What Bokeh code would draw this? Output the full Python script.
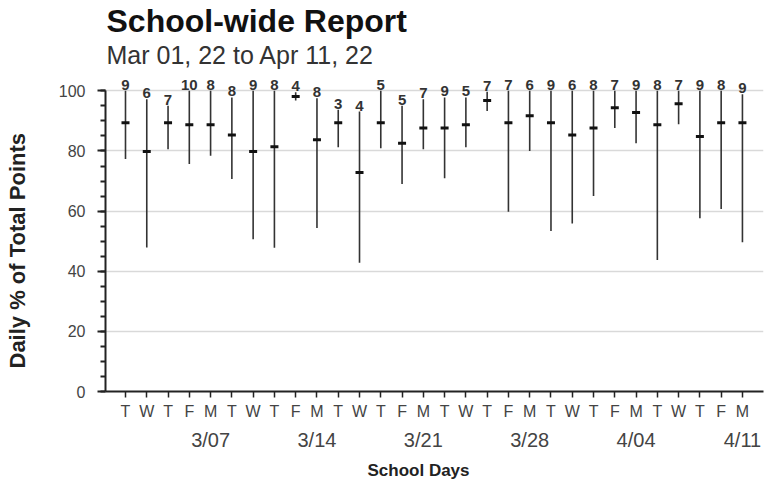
from bokeh.plotting import figure
from bokeh.models import Range1d, FixedTicker, Title, LinearAxis, ColumnDataSource
from bokeh.core.properties import value
from bokeh.embed import file_html
from bokeh.resources import INLINE

# ---- data ----
day_letters = ["T", "W", "T", "F", "M", "T", "W", "T", "F", "M",
               "T", "W", "T", "F", "M", "T", "W", "T", "F", "M",
               "T", "W", "T", "F", "M", "T", "W", "T", "F", "M"]
week_labels = ["3/07", "3/14", "3/21", "3/28", "4/04", "4/11"]
week_positions = [4, 9, 14, 19, 24, 29]
counts = [9, 6, 7, 10, 8, 8, 9, 8, 4, 8, 3, 4, 5, 5, 7, 9, 5, 7, 7, 6,
          9, 6, 8, 7, 9, 8, 7, 9, 8, 9]
means = [89.4, 79.8, 89.4, 88.7, 88.7, 85.3, 79.8, 81.4, 98.1, 83.7,
         89.4, 72.8, 89.4, 82.6, 87.6, 87.6, 88.7, 96.8, 89.4, 91.7,
         89.4, 85.3, 87.6, 94.4, 92.8, 88.7, 95.7, 84.8, 89.4, 89.4]
highs = [100, 97.2, 95, 100, 100, 97.8, 100, 100, 99.5, 97.5,
         93.7, 93.1, 100, 95, 97.2, 97.8, 97.8, 99.7, 100, 100,
         100, 100, 100, 100, 100, 100, 100, 100, 100, 98.9]
lows = [77.3, 47.9, 80.6, 75.7, 78.4, 70.7, 50.6, 47.8, 96.8, 54.4,
        81.2, 42.8, 80.9, 69.0, 80.6, 70.9, 81.2, 93.3, 59.8, 80.0,
        53.4, 55.9, 65.0, 87.6, 82.6, 43.7, 88.9, 57.6, 60.7, 49.6]
y_ticks = [0, 20, 40, 60, 80, 100]

xs = list(range(len(day_letters)))
src = ColumnDataSource(dict(x=xs, lo=lows, hi=highs, mean=means,
                            n=[str(c) for c in counts]))

FONT = "Liberation Sans"

p = figure(width=764, height=491, output_backend="svg", toolbar_location=None,
           title=None,
           x_range=Range1d(-0.94, 29.99), y_range=Range1d(0, 107.43),
           min_border_left=105, min_border_right=1, min_border_top=0,
           min_border_bottom=100)
p.outline_line_color = None

# titles (first added = closest to the plot)
p.add_layout(Title(text="Mar 01, 22 to Apr 11, 22", align="left", offset=1,
                   standoff=0, text_font=FONT, text_font_size="25px",
                   text_font_style="normal", text_color="#333333"), "above")
p.add_layout(Title(text="School-wide Report", align="left", offset=1,
                   standoff=0, text_font=FONT, text_font_size="32px",
                   text_font_style="bold", text_color="#111111"), "above")

# grid
p.xgrid.visible = False
p.ygrid.grid_line_color = "#d9d9d9"
p.ygrid.grid_line_width = 1.5

# y axis
ya = p.yaxis[0]
ya.ticker = FixedTicker(ticks=y_ticks, minor_ticks=list(range(0, 101, 5)))
ya.bounds = (0, 100)
ya.axis_line_color = "#222222"
ya.axis_line_width = 2
ya.major_tick_line_color = "#222222"
ya.major_tick_line_width = 2
ya.major_tick_out = 8
ya.major_tick_in = 0
ya.minor_tick_line_color = "#222222"
ya.minor_tick_line_width = 2
ya.minor_tick_out = 5
ya.minor_tick_in = 0
ya.major_label_standoff = 12
ya.major_label_text_font = FONT
ya.major_label_text_font_size = "16px"
ya.major_label_text_color = "#444444"
# blank axis label only reserves room between tick labels and the title
ya.axis_label = " "
ya.axis_label_text_font_size = "10px"
ya.axis_label_standoff = 6

p.add_layout(Title(text="Daily % of Total Points", align="left", offset=23,
                   vertical_align="top", standoff=8, text_font=FONT,
                   text_font_size="22px", text_font_style="bold",
                   text_color="#222222"), "left")

# x axis: day letters
xa = p.xaxis[0]
xa.ticker = FixedTicker(ticks=xs)
xa.major_label_overrides = {i: d for i, d in zip(xs, day_letters)}
xa.axis_line_color = "#222222"
xa.axis_line_width = 2
xa.major_tick_line_color = "#222222"
xa.major_tick_line_width = 1.5
xa.major_tick_out = 6
xa.major_tick_in = 0
xa.minor_tick_line_color = None
xa.major_label_standoff = 5
xa.major_label_text_font = FONT
xa.major_label_text_font_size = "16px"
xa.major_label_text_color = "#444444"

# x axis: week (Monday) dates
wa = LinearAxis(ticker=FixedTicker(ticks=week_positions),
                major_label_overrides={i: l for i, l in zip(week_positions, week_labels)})
wa.axis_line_color = None
wa.major_tick_line_color = None
wa.major_tick_out = 0
wa.major_tick_in = 0
wa.minor_tick_line_color = None
wa.major_label_standoff = 6
wa.major_label_text_font = FONT
wa.major_label_text_font_size = "20px"
wa.major_label_text_color = "#444444"
p.add_layout(wa, "below")

p.add_layout(Title(text="School Days", align="left", offset=262,
                   vertical_align="top", standoff=15, text_font=FONT,
                   text_font_size="17px", text_font_style="bold",
                   text_color="#222222"), "below")

# range bars
p.segment(x0="x", y0="lo", x1="x", y1="hi", source=src,
          line_color="#333333", line_width=1.6)
# mean marks
p.rect(x="x", y="mean", width=8, height=3, width_units="screen",
       height_units="screen", source=src, fill_color="#111111",
       line_color=None)
# counts
p.text(x="x", y="hi", text="n", source=src, text_align="center",
       text_baseline="alphabetic", y_offset=-6,
       text_font=value(FONT), text_font_style="bold",
       text_font_size="15px", text_color="#333333")

open("out.html", "w").write(file_html(p, INLINE))
